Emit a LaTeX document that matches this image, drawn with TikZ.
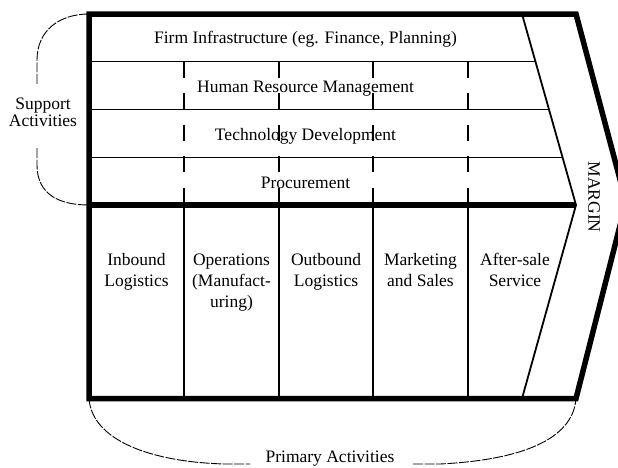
\documentclass[tikz,border=0pt]{standalone}
\usepackage{fontspec}
\setmainfont{Liberation Serif}
\usetikzlibrary{positioning, calc}

\begin{document}
\begin{tikzpicture}[x=1pt, y=-1pt,
    frame/.style = {line width=5.5pt},
    rule/.style = {line width=1.3pt},
    divider/.style = {line width=1.5pt, dash pattern=on 16pt off 15.5pt},
    brace/.style = {line width=0.9pt, dash pattern=on 10pt off 1.5pt},
    activity/.style = {font=\fontsize{17.5}{21}\selectfont, align=center, inner sep=0pt, anchor=base}]
    \useasboundingbox (0,0) rectangle (618,467);

    \coordinate (nw) at (89,14);
    \coordinate (ne) at (576,14);
    \coordinate (tip) at (626,202);
    \coordinate (se) at (576,398.5);
    \coordinate (sw) at (89,398.5);
    \coordinate (mid) at (89,205);
    \coordinate (mt) at (522,14);
    \coordinate (mm) at (576,205);
    \coordinate (mb) at (522,398.5);

    % support rows and margin line
    \foreach \f in {0.25,0.5,0.75} {
        \coordinate (r) at ($(mt)!\f!(mm)$);
        \draw[rule] (nw |- r) -- (r);
    }
    \draw[line width=1.8pt] (mt) -- (mm) -- (mb);

    % value chain columns
    \foreach \x in {184,279,373,468} {
        \draw[divider] (\x,61.5) -- (\x,205);
        \draw[rule] (\x,205) -- (\x,398.5);
    }

    \draw[frame] (mid) -- (mm);
    \draw[frame] (nw) -- (ne) -- (tip) -- (se) -- (sw) -- cycle;

    \node[activity] (firm) at (305.5,43) {Firm Infrastructure (eg. Finance, Planning)};
    \node[activity] (hrm) at (305.5,92) {Human Resource Management};
    \node[activity] (tech) at (305.5,140) {Technology Development};
    \node[activity] (proc) at (305.5,188) {Procurement};

    % base sits on the last line
    \node[activity] (inbound) at (136.5,286) {Inbound\\Logistics};
    \node[activity] (ops) at (231.5,307) {Operations\\(Manufact-\\uring)};
    \node[activity] (outbound) at (326,286) {Outbound\\Logistics};
    \node[activity] (sales) at (420.5,286) {Marketing\\and Sales};
    \node[activity] (service) at (515,286) {After-sale\\Service};

    \node[activity, anchor=center, rotate=-90] (margin) at (594,197) {MARGIN};

    \node[activity, font=\fontsize{17.5}{17}\selectfont] (support) at (43,126) {Support\\Activities};
    \node[activity] (primary) at (330,462) {Primary Activities};

    % braces
    \coordinate (s1) at (37,84);
    \coordinate (s2) at (37,148);
    \coordinate (p1) at (250,464);
    \coordinate (p2) at (413,464);
    \draw[brace] (nw) .. controls (60,14) and (37,30) .. (37,60) -- (s1);
    \draw[brace] (s2) -- (37,165) .. controls (37,195) and (60,205) .. (mid);
    \draw[brace] (sw) .. controls (92,440) and (150,462) .. (225,464) -- (p1);
    \draw[brace] (p2) -- (440,464) .. controls (520,460) and (573,440) .. (se);
\end{tikzpicture}
\end{document}
